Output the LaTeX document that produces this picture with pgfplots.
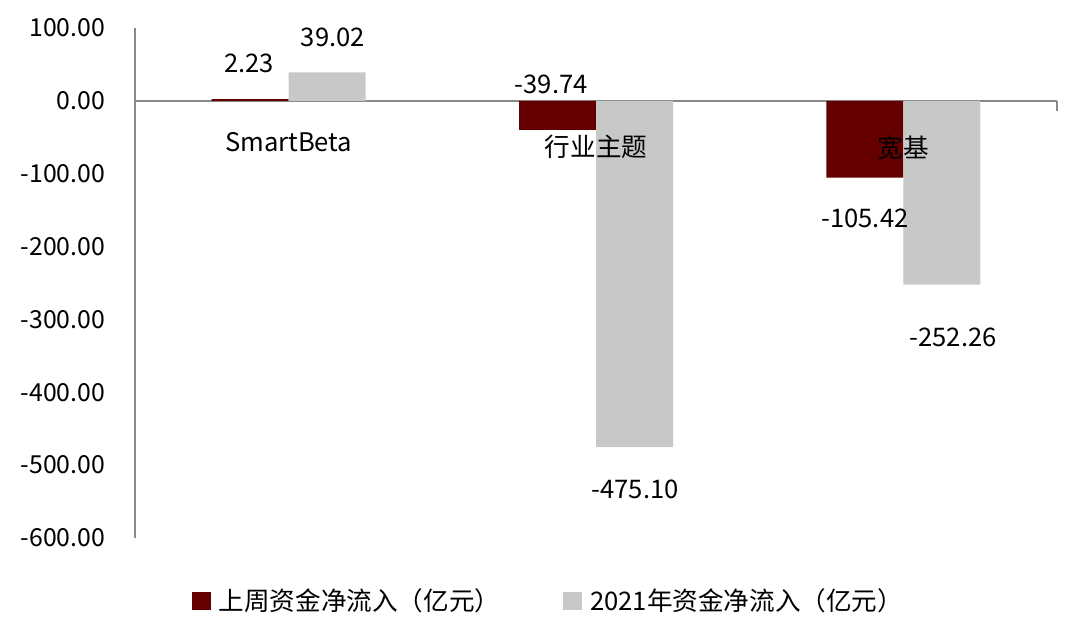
\documentclass[border=0pt]{standalone}
\usepackage{fontspec}
\setmainfont{Noto Sans CJK SC}
\usepackage{pgfplots}
\pgfplotsset{compat=1.18}
\definecolor{barred}{RGB}{100,0,0}
\definecolor{bargray}{RGB}{200,200,200}
\definecolor{axisgray}{RGB}{137,137,137}

\begin{document}
\begin{tikzpicture}[font=\fontsize{12.8}{15.4}\selectfont]
\begin{axis}[
  scale only axis, width=461pt, height=255pt,
  xmin=-0.5, xmax=2.5, ymin=-600, ymax=100,
  axis x line=none, axis y line*=left,
  axis line style={axisgray, line width=0.75pt},
  xtick=\empty,
  ytick={-600,-500,...,100},
  major tick length=0pt,
  yticklabel style={anchor=east, xshift=-11.4pt, font=\fontsize{12.4}{14.8}\selectfont,
    /pgf/number format/.cd, fixed, fixed zerofill, precision=2, assume math mode=true},
  extra y ticks={0}, extra y tick labels={},
  extra y tick style={grid=major, major grid style={axisgray, line width=0.75pt}},
  clip=false,
  legend columns=2,
  legend style={draw=none, fill=none, at={(0.4495,-0.1235)}, anchor=center,
    font=\fontsize{12.8}{15.4}\selectfont,
    /tikz/every even column/.append style={column sep=29.5pt}},
]
% bars: last week / 2021 net inflow
\addplot[ybar, bar width=38.5pt, bar shift=-19.25pt, fill=barred, draw=none,
  legend image code/.code={\fill[barred] (0pt,-4.7pt) rectangle (9.5pt,4.7pt); \path (11.5pt,0pt);}]
coordinates {(0,2.23) (1,-39.74) (2,-105.42)};
\addlegendentry{上周资金净流入（亿元）}
\addplot[ybar, bar width=38.5pt, bar shift=19.25pt, fill=bargray, draw=none,
  legend image code/.code={\fill[bargray] (0pt,-4.7pt) rectangle (9.5pt,4.7pt); \path (11.5pt,0pt);}]
coordinates {(0,39.02) (1,-475.10) (2,-252.26)};
\addlegendentry{2021年资金净流入（亿元）}

% value labels and category names
\addplot[draw=none, mark=none, forget plot, nodes near coords,
  point meta=explicit symbolic,
  every node near coord/.append style={anchor=center, black, inner sep=0pt}]
coordinates {
  (-0.129,50.9)[2.23] (0.144,87.3)[39.02]
  (0.854,22)[-39.74] (1.127,-533.7)[-475.10]
  (1.875,-161)[-105.42] (2.162,-324.6)[-252.26]
  (0,-56.4)[SmartBeta] (1,-63)[行业主题] (2,-65)[宽基]
};

\draw[axisgray, line width=0.75pt] (axis cs:2.5,0) -- ++(0pt,-5pt);
\path (rel axis cs:-0.1464,-0.2059) rectangle (rel axis cs:1.0249,1.0549);
\end{axis}
\end{tikzpicture}
\end{document}
